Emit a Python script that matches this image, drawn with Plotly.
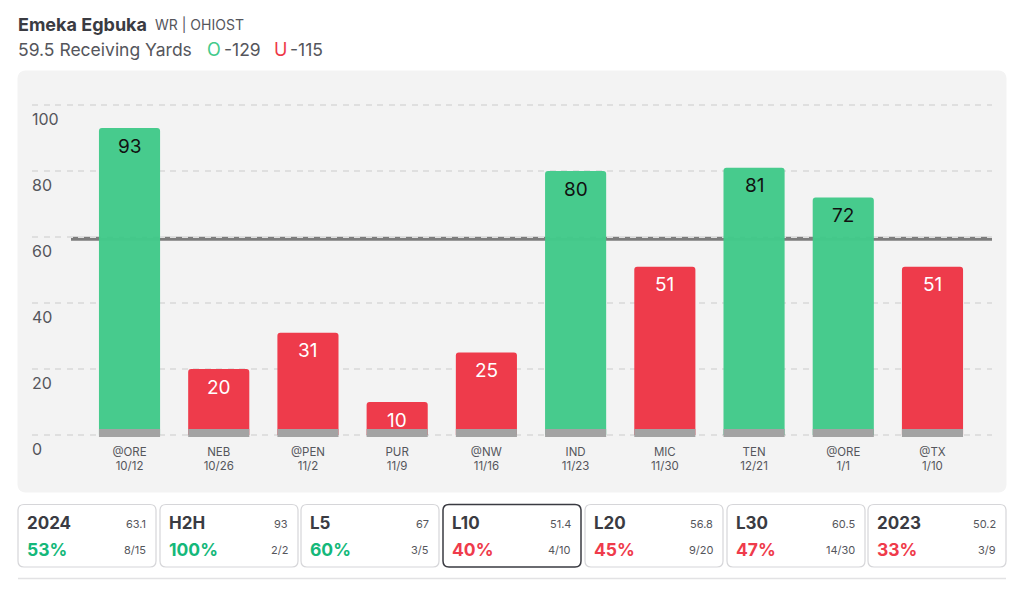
import plotly.graph_objects as go

WIDTH = 1024
HEIGHT = 591
FONT = "Inter"

GREEN = "#43CA8B"
RED = "#EE3747"
TEXT_GREEN = "#14B87A"
TEXT_RED = "#EF3B4B"
DARK = "#3A3B42"
MID = "#55565C"

# game log
opponents = ["@ORE", "NEB", "@PEN", "PUR", "@NW", "IND", "MIC", "TEN", "@ORE", "@TX"]
dates = ["10/12", "10/26", "11/2", "11/9", "11/16", "11/23", "11/30", "12/21", "1/1", "1/10"]
yards = [93, 20, 31, 10, 25, 80, 51, 81, 72, 51]
prop_line = 59.5
y_ticks = [0, 20, 40, 60, 80, 100]

# split cards under the chart
card_names = ["2024", "H2H", "L5", "L10", "L20", "L30", "2023"]
card_avgs = ["63.1", "93", "67", "51.4", "56.8", "60.5", "50.2"]
card_pcts = [53, 100, 60, 40, 45, 47, 33]
card_records = ["8/15", "2/2", "3/5", "4/10", "9/20", "14/30", "3/9"]
card_lefts = [18, 160, 301, 443, 585, 727, 868]
selected_card = "L10"


def px(x):
    return x / WIDTH


def py(y):
    return 1 - y / HEIGHT


def round_rect(x0, y0, x1, y1, r, fill, line_color=None, line_width=1):
    # pixel box -> paper path, plotly has no rounded rect shape
    rx, ry = r / WIDTH, r / HEIGHT
    l, r_, t, b = px(x0), px(x1), py(y0), py(y1)
    path = (
        f"M {l + rx} {t} L {r_ - rx} {t} Q {r_} {t} {r_} {t - ry} "
        f"L {r_} {b + ry} Q {r_} {b} {r_ - rx} {b} "
        f"L {l + rx} {b} Q {l} {b} {l} {b + ry} "
        f"L {l} {t - ry} Q {l} {t} {l + rx} {t} Z"
    )
    return dict(type="path", path=path, xref="paper", yref="paper", layer="below",
                fillcolor=fill, line=dict(color=line_color or fill, width=line_width))


def label(x, y, text, size, color, anchor="left", bold=False):
    return dict(x=px(x), y=py(y), xref="paper", yref="paper", text=f"<b>{text}</b>" if bold else text,
                showarrow=False, xanchor=anchor, yanchor="middle", borderpad=0, borderwidth=0,
                font=dict(family=FONT, size=size, color=color))


bar_colors = [GREEN if v > prop_line else RED for v in yards]

fig = go.Figure()

fig.add_trace(go.Bar(
    x=list(range(len(yards))), y=yards,
    marker=dict(color=bar_colors, opacity=0.98, line_width=0, cornerradius=3),
    width=0.685, hoverinfo="skip", showlegend=False,
))
# grey foot on each bar
fig.add_trace(go.Bar(
    x=list(range(len(yards))), y=[2.4] * len(yards), base=-0.6,
    marker=dict(color="#A3A3A3", line_width=0),
    width=0.685, hoverinfo="skip", showlegend=False,
))

annotations = []

# bar values
for i, v in enumerate(yards):
    annotations.append(dict(
        x=i, y=v, xref="x", yref="y", text=str(v), showarrow=False, yshift=-18,
        xanchor="center", yanchor="middle",
        font=dict(family=FONT, size=19, color="#111111" if v > prop_line else "white"),
    ))

# y labels sit under their gridlines, 0 would get dropped as an inside tick label
for t in y_ticks:
    annotations.append(dict(
        x=px(32), y=t, xref="paper", yref="y", text=str(t), showarrow=False, yshift=-14,
        xanchor="left", yanchor="middle", borderpad=0, borderwidth=0,
        font=dict(family=FONT, size=16, color=MID),
    ))

# header
annotations += [
    label(18, 25, "Emeka Egbuka", 18, DARK, bold=True),
    label(155, 25, "WR | OHIOST", 14, MID),
    label(18, 50, "59.5 Receiving Yards", 17.5, MID),
    label(207, 50, "O", 18, GREEN),
    label(224, 50, "-129", 17.5, MID),
    label(274, 50, "U", 18, RED),
    label(290, 50, "-115", 17.5, MID),
]

shapes = [
    round_rect(18, 71, 1006, 492, 8, "#F3F3F3"),
    dict(type="line", xref="paper", yref="y", x0=px(71), x1=px(992), y0=prop_line, y1=prop_line,
         layer="below", line=dict(color="rgba(95,95,95,0.8)", width=4)),
    dict(type="line", xref="paper", yref="paper", x0=px(18), x1=px(1006), y0=py(578.5), y1=py(578.5),
         layer="below", line=dict(color="#E2E2E4", width=1.5)),
]

# cards
for name, avg, pct, rec, left in zip(card_names, card_avgs, card_pcts, card_records, card_lefts):
    selected = name == selected_card
    shapes.append(round_rect(left, 504.5, left + 138, 567, 6, "white",
                             DARK if selected else "#D6D6D9", 1.5 if selected else 1.2))
    pct_color = TEXT_GREEN if pct > 50 else TEXT_RED
    annotations += [
        label(left + 9, 523, name, 17, DARK, bold=True),
        label(left + 9, 549, f"{pct}%", 17.5, pct_color, bold=True),
        label(left + 128, 524, avg, 11, MID, anchor="right"),
        label(left + 128, 550, rec, 11, MID, anchor="right"),
    ]

# 3.3 px per yard, zero line at y=435
plot_top = 93
plot_bottom = 440
y_range = [(435 - plot_bottom) / 3.3, (435 - plot_top) / 3.3]

fig.update_layout(
    width=WIDTH, height=HEIGHT,
    barmode="overlay",
    paper_bgcolor="white",
    plot_bgcolor="rgba(0,0,0,0)",
    margin=dict(l=0, r=0, t=0, b=0),
    showlegend=False,
    font=dict(family=FONT, color=MID),
    shapes=shapes,
    annotations=annotations,
    xaxis=dict(
        domain=[px(32), px(992)],
        range=[-1.093, 9.667],
        tickmode="array",
        tickvals=list(range(len(yards))),
        ticktext=[f"{o}<br>{d}" for o, d in zip(opponents, dates)],
        tickfont=dict(family=FONT, size=11.5, color=MID),
        ticklabelstandoff=3,
        showgrid=False, zeroline=False, showline=False, ticks="",
    ),
    yaxis=dict(
        domain=[py(plot_bottom), py(plot_top)],
        range=y_range,
        tickmode="array",
        tickvals=y_ticks,
        showticklabels=False,
        showgrid=True, gridcolor="#DFDFDF", gridwidth=2, griddash="6px,5.5px",
        zeroline=False, showline=False, ticks="",
    ),
)

# page margin would push the fixed-size chart off the window
fig.write_html("out.html", config=dict(displayModeBar=False),
               post_script="document.body.style.margin='0';document.body.style.overflow='hidden';")
